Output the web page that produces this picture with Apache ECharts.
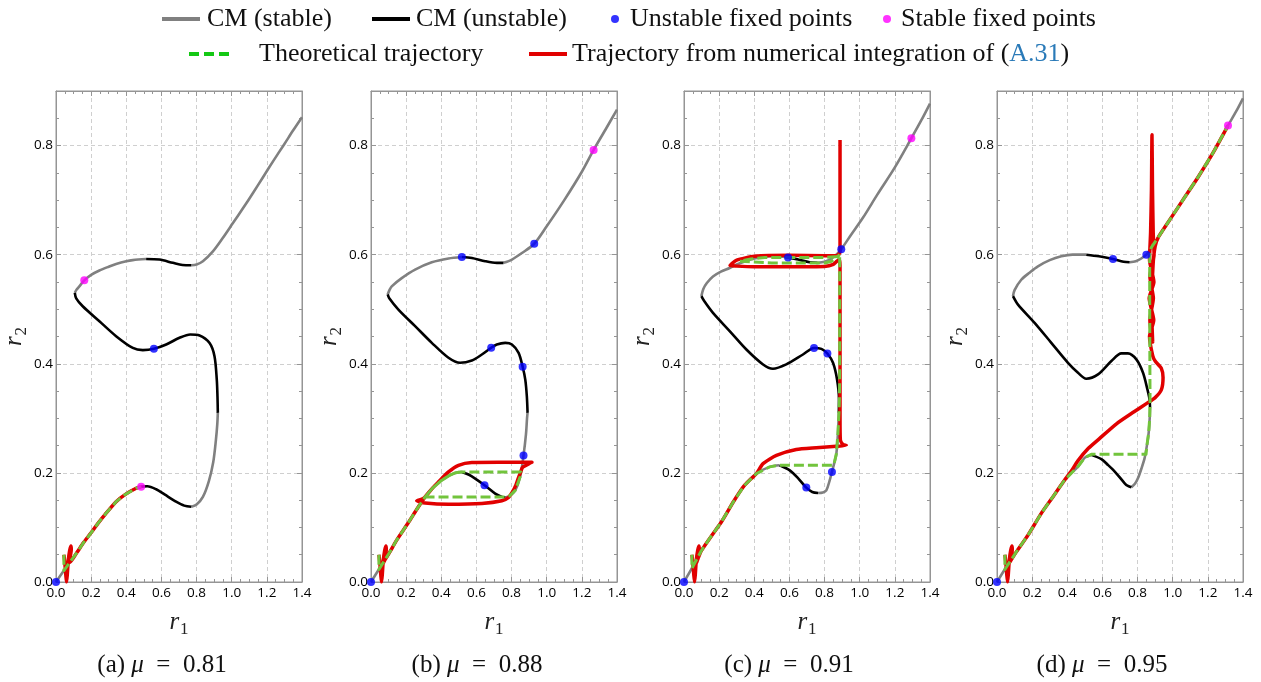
<!DOCTYPE html>
<html><head><meta charset="utf-8">
<script src="https://cdn.jsdelivr.net/npm/echarts@6/dist/echarts.min.js"></script>
<style>html,body{margin:0;padding:0;background:#fff}#c{width:1261px;height:682px}</style>
</head><body><div id="c"></div><script>
// ---------- axis settings ----------
const X_MIN = 0, X_MAX = 1.4, X_STEP = 0.2;
const Y_MIN = 0, Y_MAX = 0.9, Y_STEP = 0.2;
const panelLetters = ['(a)', '(b)', '(c)', '(d)'];
const muValues = ['0.81', '0.88', '0.91', '0.95'];

// ---------- panel (a) mu = 0.81 ----------
const cmStableA = [
  [[0,0],[0.045,0.021],[0.0786,0.036],[0.1178,0.0534],[0.1558,0.0718],[0.1995,0.0902],[0.24,0.108],[0.281,0.1245],[0.342,0.1472],[0.395,0.1607],[0.456,0.1718],[0.4845,0.1748]],
  [[0.77,0.138],[0.80,0.142],[0.836,0.156],[0.87,0.185],[0.895,0.22],[0.91,0.26],[0.918,0.29],[0.921,0.31]],
  [[0.107,0.53],[0.115,0.535],[0.133,0.542],[0.161,0.553],[0.2,0.563],[0.247,0.571],[0.3,0.578],[0.342,0.583],[0.4,0.588],[0.437,0.590],[0.513,0.592]],
  [[0.77,0.5805],[0.8,0.582],[0.836,0.588],[0.893,0.606],[0.95,0.631],[1.007,0.658],[1.064,0.685],[1.121,0.713],[1.178,0.742],[1.235,0.771],[1.3,0.803],[1.35,0.828],[1.4,0.852]]
];
const cmUnstableA = [
  [[0.4845,0.1748],[0.52,0.1755],[0.57,0.170],[0.62,0.160],[0.68,0.148],[0.73,0.140],[0.77,0.138]],
  [[0.921,0.31],[0.919,0.34],[0.915,0.371],[0.902,0.414],[0.874,0.438],[0.817,0.452],[0.764,0.4537],[0.703,0.4476],[0.627,0.4354],[0.557,0.4274],[0.494,0.425],[0.437,0.429],[0.342,0.4506],[0.247,0.478],[0.152,0.5055],[0.115,0.52],[0.107,0.53]],
  [[0.513,0.592],[0.589,0.591],[0.665,0.585],[0.72,0.581],[0.77,0.5805]]
];
const theoryA = [[0.045,0.05],[0.045,0.021],[0.0786,0.036],[0.1178,0.0534],[0.1558,0.0718],[0.1995,0.0902],[0.24,0.108],[0.281,0.1245],[0.342,0.1472],[0.395,0.1607],[0.456,0.1718],[0.4845,0.1748]];
const numericA = [[0.045,0.05],[0.05,0.036],[0.056,0.012],[0.06,0.0],[0.064,0.012],[0.07,0.04],[0.078,0.058],[0.085,0.066],[0.087,0.06],[0.08,0.045],[0.072,0.036],[0.0786,0.036],[0.1178,0.0534],[0.1558,0.0718],[0.1995,0.0902],[0.24,0.108],[0.281,0.1245],[0.342,0.1472],[0.395,0.1607],[0.456,0.1718],[0.4845,0.1748]];
const unstablePtsA = [[0,0],[0.557,0.4274]];
const stablePtsA = [[0.161,0.553],[0.4845,0.1748]];

// ---------- panel (b) mu = 0.88 ----------
const cmStableB = [
  [[0,0],[0.05,0.026],[0.108,0.0555],[0.146,0.0768],[0.213,0.109],[0.26,0.133],[0.308,0.156],[0.35,0.172],[0.403,0.1866],[0.45,0.196],[0.479,0.200],[0.517,0.2018]],
  [[0.764,0.155],[0.79,0.158],[0.821,0.168],[0.849,0.193],[0.868,0.232],[0.882,0.271],[0.888,0.3],[0.891,0.31]],
  [[0.095,0.527],[0.105,0.535],[0.118,0.542],[0.175,0.557],[0.251,0.5726],[0.346,0.586],[0.441,0.593],[0.517,0.5957]],
  [[0.754,0.585],[0.802,0.591],[0.859,0.603],[0.929,0.620],[1.0,0.652],[1.1,0.700],[1.2,0.752],[1.267,0.792],[1.334,0.829],[1.4,0.866]]
];
const cmUnstableB = [
  [[0.517,0.2018],[0.555,0.197],[0.593,0.1896],[0.646,0.1774],[0.707,0.162],[0.745,0.156],[0.764,0.155]],
  [[0.891,0.31],[0.887,0.34],[0.878,0.371],[0.863,0.3945],[0.840,0.420],[0.802,0.4354],[0.764,0.4384],[0.716,0.4354],[0.684,0.4293],[0.631,0.417],[0.574,0.406],[0.507,0.4018],[0.441,0.411],[0.346,0.4384],[0.251,0.469],[0.156,0.4994],[0.103,0.5207],[0.095,0.527]],
  [[0.517,0.5957],[0.574,0.594],[0.65,0.588],[0.716,0.585],[0.754,0.585]]
];
const theoryB = [[0.045,0.05],[0.045,0.023],[0.05,0.026],[0.108,0.0555],[0.146,0.0768],[0.213,0.109],[0.26,0.133],[0.308,0.156],[0.35,0.172],[0.403,0.1866],[0.45,0.196],[0.479,0.200],[0.517,0.2018],[0.853,0.2018],[0.849,0.193],[0.821,0.168],[0.79,0.158],[0.764,0.156],[0.308,0.156],[0.35,0.172],[0.403,0.1866],[0.45,0.196],[0.479,0.200],[0.517,0.2018]];
const numericB = [[0.045,0.05],[0.05,0.036],[0.056,0.012],[0.06,0.0],[0.064,0.012],[0.07,0.04],[0.078,0.058],[0.085,0.066],[0.087,0.06],[0.08,0.045],[0.072,0.036],[0.08,0.041],[0.108,0.0555],[0.146,0.0768],[0.213,0.109],[0.26,0.133],[0.308,0.156],[0.35,0.172],[0.384,0.1835],[0.441,0.2018],[0.498,0.214],[0.574,0.219],[0.726,0.2195],[0.859,0.2195],[0.916,0.2195],[0.9,0.217],[0.862,0.21],[0.85,0.2],[0.838,0.19],[0.825,0.178],[0.805,0.165],[0.783,0.155],[0.745,0.1488],[0.631,0.144],[0.441,0.1427],[0.308,0.145],[0.26,0.1488],[0.29,0.152],[0.308,0.156],[0.35,0.172],[0.384,0.1835]];
const unstablePtsB = [[0,0],[0.517,0.5957],[0.929,0.620],[0.684,0.4293],[0.863,0.3945],[0.868,0.232],[0.646,0.1774]];
const stablePtsB = [[1.267,0.792]];

// ---------- panel (c) mu = 0.91 ----------
const cmStableC = [
  [[0,0],[0.05,0.028],[0.0986,0.0573],[0.146,0.0799],[0.2125,0.110],[0.283,0.148],[0.345,0.1774],[0.412,0.1988],[0.4875,0.211],[0.544,0.214]],
  [[0.763,0.163],[0.79,0.164],[0.81,0.168],[0.828,0.185],[0.842,0.2018],[0.855,0.218],[0.867,0.235],[0.876,0.272],[0.881,0.31]],
  [[0.099,0.524],[0.11,0.537],[0.13,0.548],[0.165,0.560],[0.21,0.569],[0.26,0.5756],[0.3,0.582],[0.35,0.588],[0.4,0.593],[0.45,0.596],[0.5,0.597],[0.592,0.595]],
  [[0.76,0.585],[0.8,0.587],[0.84,0.593],[0.87,0.601],[0.895,0.610],[0.95,0.636],[1.019,0.668],[1.1,0.71],[1.2,0.76],[1.294,0.8134],[1.35,0.846],[1.4,0.877]]
];
const cmUnstableC = [
  [[0.544,0.214],[0.6,0.205],[0.65,0.19],[0.696,0.173],[0.73,0.165],[0.763,0.163]],
  [[0.881,0.31],[0.882,0.335],[0.871,0.3713],[0.848,0.4018],[0.816,0.4189],[0.782,0.4274],[0.74,0.429],[0.677,0.417],[0.582,0.399],[0.506,0.391],[0.45,0.3988],[0.355,0.4262],[0.26,0.46],[0.165,0.4933],[0.115,0.515],[0.099,0.524]],
  [[0.592,0.595],[0.65,0.591],[0.715,0.586],[0.76,0.585]]
];
const theoryC = [[0.045,0.05],[0.045,0.025],[0.05,0.028],[0.0986,0.0573],[0.146,0.0799],[0.2125,0.110],[0.283,0.148],[0.345,0.1774],[0.412,0.1988],[0.4875,0.211],[0.544,0.214],[0.85,0.214],[0.855,0.218],[0.867,0.235],[0.876,0.272],[0.882,0.31],[0.885,0.34],[0.886,0.4],[0.886,0.5],[0.886,0.598],[0.86,0.596],[0.8,0.595],[0.6,0.595],[0.46,0.595],[0.38,0.592],[0.317,0.588],[0.32,0.585],[0.5,0.5848],[0.7,0.5848],[0.802,0.5848],[0.84,0.588],[0.87,0.595],[0.886,0.6]];
const numericC = [[0.045,0.05],[0.05,0.036],[0.056,0.012],[0.06,0.0],[0.064,0.012],[0.07,0.04],[0.078,0.058],[0.085,0.066],[0.087,0.06],[0.08,0.045],[0.072,0.036],[0.08,0.043],[0.0986,0.0573],[0.146,0.0799],[0.2125,0.110],[0.283,0.148],[0.345,0.1774],[0.412,0.1988],[0.45,0.217],[0.526,0.232],[0.639,0.2427],[0.753,0.246],[0.867,0.2488],[0.924,0.2506],[0.905,0.252],[0.89,0.26],[0.888,0.3],[0.888,0.4],[0.888,0.5],[0.888,0.58],[0.885,0.59],[0.87,0.588],[0.85,0.582],[0.8,0.5785],[0.6,0.578],[0.4,0.578],[0.3,0.579],[0.262,0.58],[0.3,0.59],[0.4,0.597],[0.6,0.599],[0.8,0.598],[0.87,0.598],[0.888,0.605],[0.888,0.7],[0.888,0.81]];
const unstablePtsC = [[0,0],[0.592,0.595],[0.895,0.610],[0.74,0.429],[0.816,0.419],[0.696,0.173],[0.842,0.2018]];
const stablePtsC = [[1.294,0.8134]];

// ---------- panel (d) mu = 0.95 ----------
const cmStableD = [
  [[0,0],[0.05,0.026],[0.11,0.0552],[0.1764,0.0859],[0.252,0.1258],[0.319,0.1564],[0.385,0.187],[0.461,0.2117],[0.5,0.228],[0.537,0.233]],
  [[0.765,0.1736],[0.785,0.18],[0.802,0.190],[0.822,0.208],[0.84,0.227],[0.853,0.25],[0.863,0.273],[0.869,0.3],[0.871,0.32]],
  [[0.091,0.524],[0.1,0.535],[0.138,0.554],[0.185,0.567],[0.233,0.5787],[0.3,0.59],[0.366,0.597],[0.43,0.6],[0.508,0.6]],
  [[0.755,0.586],[0.79,0.588],[0.821,0.593],[0.85,0.6],[0.878,0.613],[0.92,0.633],[1.0,0.672],[1.07,0.706],[1.144,0.742],[1.23,0.787],[1.3146,0.8366],[1.36,0.862],[1.4,0.8866]]
];
const cmUnstableD = [
  [[0.537,0.233],[0.594,0.2252],[0.63,0.215],[0.67,0.2025],[0.7266,0.181],[0.745,0.176],[0.765,0.1736]],
  [[0.871,0.32],[0.868,0.335],[0.856,0.353],[0.831,0.3835],[0.793,0.408],[0.745,0.419],[0.708,0.419],[0.651,0.405],[0.575,0.3805],[0.508,0.3726],[0.461,0.3835],[0.404,0.4018],[0.309,0.4384],[0.214,0.475],[0.1195,0.5085],[0.091,0.524]],
  [[0.508,0.6],[0.58,0.597],[0.66,0.592],[0.72,0.587],[0.755,0.586]]
];
const theoryD = [[0.045,0.05],[0.045,0.023],[0.05,0.026],[0.11,0.0552],[0.1764,0.0859],[0.252,0.1258],[0.319,0.1564],[0.385,0.187],[0.461,0.2117],[0.5,0.228],[0.537,0.234],[0.848,0.234],[0.853,0.25],[0.863,0.273],[0.869,0.3],[0.871,0.33],[0.87,0.4],[0.869,0.5],[0.869,0.603],[0.878,0.613],[0.92,0.633],[1.0,0.672],[1.07,0.706],[1.144,0.742],[1.23,0.787],[1.3146,0.8366]];
const numericD = [[0.045,0.05],[0.05,0.036],[0.056,0.012],[0.06,0.0],[0.064,0.012],[0.07,0.04],[0.078,0.058],[0.085,0.066],[0.087,0.06],[0.08,0.045],[0.072,0.036],[0.08,0.04],[0.11,0.0552],[0.1764,0.0859],[0.252,0.1258],[0.319,0.1564],[0.385,0.187],[0.42,0.202],[0.46,0.222],[0.52,0.245],[0.58,0.262],[0.68,0.29],[0.78,0.312],[0.85,0.327],[0.9,0.338],[0.935,0.352],[0.945,0.375],[0.935,0.392],[0.9,0.405],[0.886,0.415],[0.868,0.45],[0.892,0.48],[0.866,0.52],[0.893,0.55],[0.868,0.59],[0.874,0.64],[0.879,0.72],[0.882,0.82],[0.885,0.72],[0.889,0.64],[0.894,0.6],[0.87,0.56],[0.89,0.52],[0.87,0.48],[0.886,0.44],[0.88,0.5],[0.888,0.58],[0.9,0.615],[0.92,0.633],[1.0,0.672],[1.07,0.706],[1.144,0.742],[1.23,0.787],[1.3146,0.8366]];
const unstablePtsD = [[0,0],[0.66,0.592],[0.85,0.6]];
const stablePtsD = [[1.3146,0.8366]];

// ---------- assembly ----------
const panels = [
  {stable: cmStableA, unstable: cmUnstableA, theory: theoryA, numeric: numericA, upts: unstablePtsA, spts: stablePtsA},
  {stable: cmStableB, unstable: cmUnstableB, theory: theoryB, numeric: numericB, upts: unstablePtsB, spts: stablePtsB},
  {stable: cmStableC, unstable: cmUnstableC, theory: theoryC, numeric: numericC, upts: unstablePtsC, spts: stablePtsC},
  {stable: cmStableD, unstable: cmUnstableD, theory: theoryD, numeric: numericD, upts: unstablePtsD, spts: stablePtsD}
];
const N_STABLE = 'CM (stable)', N_UNSTABLE = 'CM (unstable)', N_UPTS = 'Unstable fixed points',
      N_SPTS = 'Stable fixed points', N_THEORY = 'Theoretical trajectory',
      N_NUM = 'Trajectory from numerical integration of (A.31)';
const C_GRAY = '#808080', C_BLACK = '#000000', C_RED = '#e10000', C_GREEN = '#72c43c', C_BLUE = '#0000ff', C_MAG = '#ff00ff';

const gridLeft = [56, 371, 684, 997], gridTop = 91, gridW = 246, gridH = 491;
const captionX = [162, 477, 789, 1102], captionY = 665;
const SERIF = 'Liberation Serif';
const FRAME = '#959595';

const nameRich = {
  r: {fontFamily: SERIF, fontStyle: 'italic', fontSize: 25, lineHeight: 25, verticalAlign: 'top', color: '#222'},
  s: {fontFamily: SERIF, fontSize: 17, lineHeight: 17, padding: [11, 0, 0, 1], verticalAlign: 'top', color: '#222'}
};

const grids = [], xAxes = [], yAxes = [], series = [];
panels.forEach((p, i) => {
  grids.push({left: gridLeft[i], top: gridTop, width: gridW, height: gridH, show: true,
    borderColor: FRAME, borderWidth: 1, containLabel: false, outerBoundsMode: 'none'});
  const tick = {show: true, inside: true, length: 5, lineStyle: {color: FRAME}};
  const minor = {show: true, splitNumber: 4, length: 3, lineStyle: {color: FRAME}};
  const line = {show: true, onZero: false, lineStyle: {color: FRAME, width: 1}};
  const lab = {fontFamily: 'Open Sans', fontSize: 13.5, color: '#000', formatter: v => v.toFixed(1)};
  xAxes.push({gridIndex: i, type: 'value', position: 'bottom', min: X_MIN, max: X_MAX, interval: X_STEP,
    axisLine: line, axisTick: tick, minorTick: minor,
    axisLabel: Object.assign({margin: 4}, lab),
    splitLine: {show: true, lineStyle: {color: '#cfcfcf', type: [4, 3], width: 1}},
    name: '{r|r}{s|1}', nameLocation: 'middle', nameGap: 28, nameTextStyle: {rich: nameRich}});
  xAxes.push({gridIndex: i, type: 'value', position: 'top', min: X_MIN, max: X_MAX, interval: X_STEP,
    axisLine: line, axisTick: tick, minorTick: minor, axisLabel: {show: false}, splitLine: {show: false}});
  yAxes.push({gridIndex: i, type: 'value', position: 'left', min: Y_MIN, max: Y_MAX, interval: Y_STEP,
    axisLine: line, axisTick: tick, minorTick: minor,
    axisLabel: Object.assign({margin: 3, showMaxLabel: false}, lab),
    splitLine: {show: true, lineStyle: {color: '#cfcfcf', type: [4, 3], width: 1}},
    name: '{r|r}{s|2}', nameLocation: 'middle', nameRotate: 90, nameGap: 27, nameTextStyle: {rich: nameRich}});
  yAxes.push({gridIndex: i, type: 'value', position: 'right', min: Y_MIN, max: Y_MAX, interval: Y_STEP,
    axisLine: line, axisTick: tick, minorTick: minor, axisLabel: {show: false}, splitLine: {show: false}});

  const ax = {xAxisIndex: 2 * i, yAxisIndex: 2 * i};
  const ln = (name, data, color, width, z, type, smooth) => Object.assign({
    type: 'line', name, data, showSymbol: false, symbol: 'none', smooth: smooth || false, clip: true, z,
    lineStyle: {color, width, type: type || 'solid', cap: 'butt', join: 'round'}, itemStyle: {color},
    emphasis: {disabled: true}, silent: true, animation: false}, ax);
  p.stable.forEach(seg => series.push(ln(N_STABLE, seg, C_GRAY, 2.6, 2, 'solid', 0.3)));
  p.unstable.forEach(seg => series.push(ln(N_UNSTABLE, seg, C_BLACK, 2.6, 2, 'solid', 0.3)));
  series.push(ln(N_NUM, p.numeric, C_RED, 3.5, 3, 'solid', 0.2));
  series.push(ln(N_THEORY, p.theory, C_GREEN, 3, 4, [10, 4], false));
  series.push(Object.assign({type: 'scatter', name: N_UPTS, data: p.upts, symbolSize: 8, z: 5,
    itemStyle: {color: C_BLUE}, silent: true, animation: false}, ax));
  series.push(Object.assign({type: 'scatter', name: N_SPTS, data: p.spts, symbolSize: 8, z: 5,
    itemStyle: {color: C_MAG}, silent: true, animation: false}, ax));
});

// legend icons (drawn as shapes, coloured per item)
const ICON_BAR = 'path://M0 0H38V4H0Z';
const ICON_DASH = 'path://M0 0H10V4H0Z M15 0H25V4H15Z M30 0H40V4H30Z';
const legTxt = {fontFamily: SERIF, fontSize: 26, color: '#111', lineHeight: 30};
const mkLegend = (item, left, top, w, h, txtPad) => ({
  data: [item], left, top, padding: 0, itemWidth: w, itemHeight: h, selectedMode: false,
  textStyle: Object.assign({}, legTxt, txtPad ? {padding: [0, 0, 0, txtPad]} : {})});
const legNum = mkLegend({name: N_NUM, icon: ICON_BAR, itemStyle: {color: C_RED}}, 529, 39, 38, 4, 0);
legNum.formatter = () => '{t|Trajectory from numerical integration of (}{b|A.31}{t|)}';
legNum.textStyle.rich = {
  t: {fontFamily: SERIF, fontSize: 26, color: '#111', lineHeight: 30},
  b: {fontFamily: SERIF, fontSize: 26, color: '#2a7ab8', lineHeight: 30}};
const legends = [
  mkLegend({name: N_STABLE, icon: ICON_BAR, itemStyle: {color: C_GRAY}}, 162, 4, 38, 4, 2),
  mkLegend({name: N_UNSTABLE, icon: ICON_BAR, itemStyle: {color: C_BLACK}}, 372, 4, 38, 4, 1),
  mkLegend({name: N_UPTS, icon: 'circle', itemStyle: {color: C_BLUE}}, 611, 4, 8, 8, 6),
  mkLegend({name: N_SPTS, icon: 'circle', itemStyle: {color: C_MAG}}, 883, 4, 8, 8, 5),
  mkLegend({name: N_THEORY, icon: ICON_DASH, itemStyle: {color: '#14c814'}}, 189, 39, 40, 4, 25),
  legNum
];

const SP = '\u2002';
const captions = panelLetters.map((l, i) => ({
  type: 'text', x: captionX[i], y: captionY, silent: true,
  style: {text: '{n|' + l + ' }{m|μ}{n|' + SP + '=' + SP + muValues[i] + '}', textAlign: 'center', textVerticalAlign: 'middle',
    align: 'center', verticalAlign: 'middle', fill: '#111',
    rich: {n: {fontFamily: SERIF, fontSize: 25, fill: '#111', color: '#111'},
           m: {fontFamily: SERIF, fontSize: 25, fontStyle: 'italic', fill: '#111', color: '#111'}}}
}));

const chart = echarts.init(document.getElementById('c'), null, {renderer: 'canvas'});
chart.setOption({
  animation: false,
  backgroundColor: '#fff',
  legend: legends,
  grid: grids,
  xAxis: xAxes,
  yAxis: yAxes,
  series: series,
  graphic: captions
});
</script></body></html>
